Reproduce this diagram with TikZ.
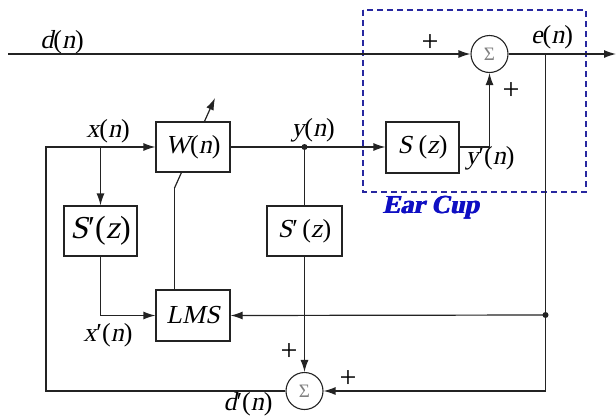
\documentclass[tikz,border=0pt]{standalone}
\usepackage{fontspec}
\setmainfont{Liberation Serif}[ItalicFont=Liberation Serif, ItalicFeatures={FakeSlant=0.21}, BoldItalicFont=Liberation Serif Bold, BoldItalicFeatures={FakeSlant=0.21}]
\usetikzlibrary{arrows.meta}
\definecolor{ln}{RGB}{35,35,35}
\definecolor{cupblue}{RGB}{15,15,195}
\definecolor{dashblue}{RGB}{40,40,160}
\newcommand{\heavy}[1]{\rlap{#1}\kern0.5pt\rlap{#1}\kern0.5pt#1}
\begin{document}
\begin{tikzpicture}[x=1pt,y=-1pt,
  blk/.style={draw=ln, line width=1.2pt, fill=white, minimum width=74pt, minimum height=50pt, inner sep=0pt, font=\fontsize{26}{28}\selectfont},
  sumc/.style={draw=ln, line width=1.1pt, fill=white, circle, minimum size=37pt, inner sep=0pt, font=\fontsize{19}{20}\selectfont\color{gray}},
  lbl/.style={font=\fontsize{26}{28}\selectfont, inner sep=0pt},
  pl/.style={font=\fontsize{30}{32}\selectfont, inner sep=0pt},
  arr/.style={-{Latex[length=12pt,width=8pt]}, line width=1.2pt, draw=ln},
  wire/.style={line width=1.2pt, draw=ln},
  cup/.style={draw=dashblue, line width=1.3pt, dash pattern=on 6pt off 4pt}
]
\useasboundingbox (0,0) rectangle (616,416);
% free coordinates
\coordinate (wl) at (174.5,188);
\coordinate (wa) at (215,98);
\coordinate (dstart) at (8,54);
\coordinate (eend) at (616,54);
\coordinate (ej) at (545.5,54);
\coordinate (ed) at (545.5,315);
\coordinate (eb) at (545.5,391);
\coordinate (yd) at (304.5,147);
\coordinate (xj) at (100.5,147);
\coordinate (fb) at (46,391);
\coordinate (ft) at (46,147);
% adaptive arrow (behind W box)
\draw[arr] (wl) -- (wa);
% dashed ear cup region
\draw[cup] (363,10) rectangle (586,192);
% nodes
\node[sumc] (s1) at (489.5,54) {Σ};
\node[sumc] (s2) at (304.5,391) {Σ};
\node[blk] (W) at (193,147) {\textit{W}(\textit{n})};
\node[blk, minimum width=73pt, minimum height=51pt] (S) at (422.5,147.5) {\textit{S}\ (\textit{z})};
\node[blk, minimum width=73pt, font=\fontsize{32}{34}\selectfont] (Sp1) at (100.5,231) {\textit{S}′(\textit{z})};
\node[blk, minimum width=75pt] (Sp2) at (304.5,231) {\textit{S}′\,(\textit{z})};
\node[blk, minimum height=51pt] (LMS) at (193,315.5) {\textit{LMS}};
% labels
\node[lbl] (dn) at (62,42) {\textit{d}(\textit{n})};
\node[lbl] (xn) at (108,131) {\textit{x}(\textit{n})};
\node[lbl] (yn) at (313,130) {\textit{y}(\textit{n})};
\node[lbl] (en) at (552,37) {\textit{e}(\textit{n})};
\node[lbl] (ypn) at (490,158) {\textit{y}′(\textit{n})};
\node[lbl] (xpn) at (108,335) {\textit{x}′(\textit{n})};
\node[lbl] (dpn) at (248,404) {\textit{d}′(\textit{n})};
\node[pl] (p1) at (430,43) {+};
\node[pl] (p2) at (511,91) {+};
\node[pl] (p3) at (289,352) {+};
\node[pl] (p4) at (348,379) {+};
\node[font=\fontsize{26}{28}\selectfont\bfseries\itshape, text=cupblue, inner sep=0pt] (ear) at (431,208) {\heavy{Ear Cup}};
% connectors
\draw[arr] (dstart) -- (s1.west);
\draw[arr] (s1.east) -- (eend);
\draw[wire] (ej) -- (eb);
\fill[ln] (ed) circle (3pt);
\draw[arr] (ed) -- (LMS.east);
\draw[arr] (eb) -- (s2.east);
\draw[arr] (W.east) -- (S.west |- W.east);
\fill[ln] (yd) circle (3pt);
\draw[wire] (yd) -- (Sp2.north);
\draw[arr] (Sp2.south) -- (s2.north);
\draw[arr] (S.east |- W.east) -| (s1.south);
\draw[arr] (s2.west) -- (fb) -- (ft) -- (W.west);
\draw[arr] (xj) -- (Sp1.north);
\draw[arr] (Sp1.south) |- (LMS.west);
\draw[wire] (wl) -- (wl |- LMS.north);
\end{tikzpicture}
\end{document}
